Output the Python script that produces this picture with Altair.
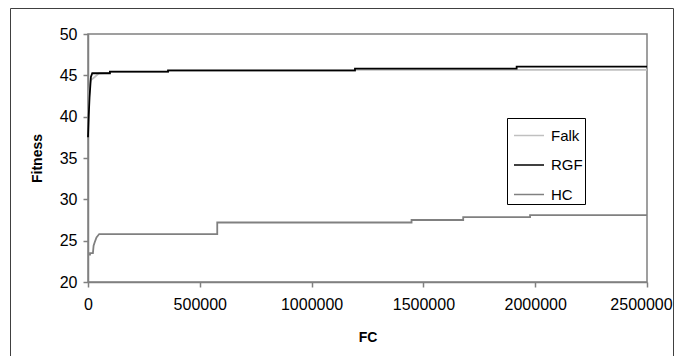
import altair as alt
import pandas as pd

series_names = ["Falk", "RGF", "HC"]
series_colors = ["#c0c0c0", "#000000", "#808080"]

falk_x = [0, 5000, 9000, 12000, 30000, 49000, 98000, 98000, 358000, 358000, 1194000, 1194000, 2500000]
falk_y = [37.8, 42.5, 44.0, 44.4, 44.8, 45.25, 45.3, 45.4, 45.4, 45.55, 45.55, 45.65, 45.65]

rgf_x = [0, 3000, 7000, 13000, 19000, 98000, 98000, 358000, 358000, 1194000, 1194000, 1917000, 1917000, 2500000]
rgf_y = [37.5, 40.0, 42.4, 44.8, 45.25, 45.25, 45.45, 45.45, 45.6, 45.6, 45.8, 45.8, 46.05, 46.05]

hc_x = [0, 9000, 9000, 22000, 25000, 30000, 38000, 50000, 578000, 578000, 1447000, 1447000, 1678000, 1678000, 1977000, 1977000, 2500000]
hc_y = [23.3, 23.3, 23.5, 23.5, 24.4, 24.8, 25.4, 25.8, 25.8, 27.2, 27.2, 27.5, 27.5, 27.85, 27.85, 28.1, 28.1]

x_ticks = [0, 500000, 1000000, 1500000, 2000000, 2500000]
y_ticks = [20, 25, 30, 35, 40, 45, 50]

rows = []
for name, xs, ys in [("Falk", falk_x, falk_y), ("RGF", rgf_x, rgf_y), ("HC", hc_x, hc_y)]:
    for i, (xv, yv) in enumerate(zip(xs, ys)):
        rows.append({"series": name, "FC": xv, "Fitness": yv, "idx": i})
df = pd.DataFrame(rows)

FONT = "Liberation Sans"

lines = alt.Chart(df).mark_line(strokeWidth=1.8).encode(
    x=alt.X("FC:Q", scale=alt.Scale(domain=[0, 2500000], nice=False),
            axis=alt.Axis(values=x_ticks, format="d", title="FC", grid=False,
                          tickSize=5, labelPadding=9, titlePadding=18,
                          labelFlush=False, labelOverlap=False,
                          labelOffset=alt.ExprRef("datum.value == 2500000 ? -6 : 0"))),
    y=alt.Y("Fitness:Q", scale=alt.Scale(domain=[20, 50], nice=False, zero=False),
            axis=alt.Axis(values=y_ticks, title="Fitness", grid=False,
                          tickSize=5, labelPadding=6, titlePadding=15)),
    color=alt.Color("series:N", scale=alt.Scale(domain=series_names, range=series_colors),
                    legend=alt.Legend(title=None, orient="none", legendX=419, legendY=84,
                                      symbolType="stroke", symbolSize=900, symbolStrokeWidth=1.5,
                                      symbolOffset=4.5,
                                      labelFontSize=15, labelFont=FONT, labelOffset=6,
                                      rowPadding=5.5, padding=1.5, strokeColor="#000000",
                                      fillColor="#ffffff", labelColor="#000000")),
    order="idx:Q",
)

frame = alt.Chart(pd.DataFrame({"a": [0]})).mark_rect(
    fill=None, stroke="#404040", strokeWidth=1, clip=False
).encode(
    x=alt.value(-77.5), x2=alt.value(585.5), y=alt.value(-25.5), y2=alt.value(400)
)

chart = alt.layer(frame, lines).properties(
    width=559, height=248,
    background="#ffffff",
    autosize=alt.AutoSizeParams(type="none"),
    padding={"left": 80, "top": 26, "right": 27, "bottom": 74},
).configure_view(
    stroke="#808080", strokeWidth=1.5
).configure_axis(
    domainColor="#808080", tickColor="#808080", domainWidth=1.5, tickWidth=1.5,
    labelFont=FONT, labelFontSize=16, labelColor="#000000",
    titleFont=FONT, titleFontSize=14, titleFontWeight="bold", titleColor="#000000",
)

chart.save("out.html", embed_options={"renderer": "svg", "actions": False})
